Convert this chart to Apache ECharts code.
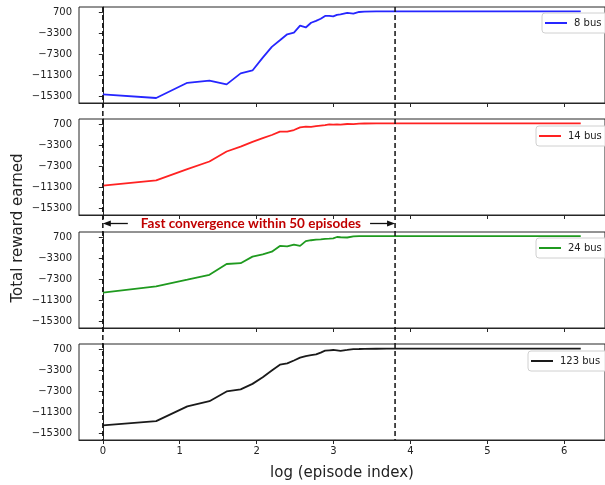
<!DOCTYPE html>
<html>
<head>
<meta charset="utf-8">
<script src="https://cdn.jsdelivr.net/npm/echarts@6/dist/echarts.min.js"></script>
<style>
  html, body { margin: 0; padding: 0; background: #fff; }
  #chart { width: 605px; height: 485px; }
</style>
</head>
<body>
<div id="chart"></div>
<script>
const episodes = [1, 2, 3, 4, 5, 6, 7, 8, 9, 10, 11, 12, 13, 14, 15, 16, 17, 18, 19, 20,
  21, 22, 24, 26, 28, 30, 35, 40, 45, 50, 60, 80, 100, 150, 200, 300, 400, 500]

const bus8 = [-15000, -15700, -12800, -12400, -13100, -11000, -10450, -8000, -5950, -4700,
  -3550, -3250, -1900, -2250, -1350, -1000, -600, -50, -50, -150,
  150, 250, 550, 400, 700, 750, 800, 820, 830, 830, 830, 830, 830, 830, 830, 830, 830, 830]
const bus14 = [-11050, -10050, -7900, -6450, -4550, -3600, -2700, -2000, -1400, -750,
  -750, -450, 50, 200, 150, 280, 400, 500, 620, 580,
  600, 560, 700, 680, 760, 790, 800, 820, 830, 830, 830, 830, 830, 830, 830, 830, 830, 830]
const bus24 = [-9900, -8700, -7450, -6500, -4450, -4300, -3050, -2600, -2100, -1000,
  -1100, -750, -1000, -100, 80, 200, 250, 350, 400, 450,
  700, 650, 600, 800, 850, 860, 870, 870, 870, 870, 870, 870, 870, 870, 870, 870, 870, 870]
const bus123 = [-13850, -13050, -10250, -9250, -7400, -7000, -5950, -4700, -3400, -2300,
  -2050, -1500, -950, -650, -480, -340, 0, 380, 450, 510,
  420, 330, 510, 680, 700, 720, 740, 750, 750, 750, 750, 750, 750, 750, 750, 750, 750, 750]

const seriesNames = ['8 bus', '14 bus', '24 bus', '123 bus']
const xTicks = [0, 1, 2, 3, 4, 5, 6]
const yTicks = [-15300, -11300, -7300, -3300, 700]
const convergeAt = 3.8   // log of ~45 episodes

const values = [bus8, bus14, bus24, bus123]
const colors = ['#2626ff', '#ff2222', '#1f9a1f', '#1a1a1a']
const tops = [7, 119, 232, 344]
const legendPos = [[542, 13], [536, 126], [536, 238], [528, 351]]
const axisColor = '#262626'
const font = 'DejaVu Sans'

const chart = echarts.init(document.getElementById('chart'))

chart.setOption({
    animation: false,
    textStyle: {fontFamily: font},
    grid: tops.map(t => ({
        left: 79, top: t, width: 534, height: 96,
        show: true, borderColor: axisColor, borderWidth: 1, backgroundColor: 'transparent'
    })),
    xAxis: tops.map((t, i) => ({
        type: 'value',
        gridIndex: i,
        min: -0.31,
        max: 6.53,
        name: i === 3 ? 'log (episode index)' : '',
        nameLocation: 'middle',
        nameGap: 26,
        nameTextStyle: {fontSize: 15, color: '#222', fontFamily: font},
        axisLine: {onZero: false, lineStyle: {color: axisColor, width: 1}},
        axisTick: {customValues: xTicks, length: 4, lineStyle: {color: axisColor}},
        axisLabel: {show: i === 3, customValues: xTicks, fontSize: 10, color: '#222', margin: 6},
        splitLine: {show: false}
    })),
    yAxis: tops.map((t, i) => ({
        type: 'value',
        gridIndex: i,
        min: -16650,
        max: 1650,
        axisLine: {show: true, lineStyle: {color: axisColor, width: 1}},
        axisTick: {show: true, customValues: yTicks, length: 4, lineStyle: {color: axisColor}},
        axisLabel: {
            customValues: yTicks, fontSize: 10, color: '#222', margin: 7,
            formatter: v => String(v).replace('-', '\u2212')
        },
        splitLine: {show: false}
    })),
    legend: seriesNames.map((name, i) => ({
        data: [name],
        left: legendPos[i][0],
        top: legendPos[i][1],
        padding: [5, 8, 5, 3],
        borderColor: '#d0d0d0',
        borderWidth: 1,
        borderRadius: 3,
        backgroundColor: 'rgba(255,255,255,0.85)',
        icon: 'rect',
        itemWidth: 22,
        itemHeight: 2,
        textStyle: {fontSize: 10, color: '#222', fontFamily: font, padding: [0, 0, 0, 2]}
    })),
    series: seriesNames.map((name, i) => ({
        name: name,
        type: 'line',
        xAxisIndex: i,
        yAxisIndex: i,
        symbol: 'none',
        color: colors[i],
        lineStyle: {width: 1.8, color: colors[i]},
        data: episodes.map((e, k) => [Math.log(e), values[i][k]])
    }))
})

// dashed convergence markers, the annotation and the shared y label
const x0 = chart.convertToPixel({xAxisIndex: 0}, 0)
const x1 = chart.convertToPixel({xAxisIndex: 0}, convergeAt)
const yTop = tops[0]
const yBottom = tops[3] + 96
const yMid = (tops[1] + 96 + tops[2]) / 2
const dash = {stroke: '#111', lineWidth: 1.5, lineDash: [5, 3]}
const arrowStyle = {stroke: '#111', lineWidth: 1.3}

chart.setOption({
    graphic: [
        {type: 'line', z: 50, shape: {x1: x0, y1: yTop, x2: x0, y2: yBottom}, style: dash},
        {type: 'line', z: 50, shape: {x1: x1, y1: yTop, x2: x1, y2: yBottom}, style: dash},
        {type: 'line', z: 50, shape: {x1: x0 + 25, y1: yMid, x2: x0 + 4, y2: yMid}, style: arrowStyle},
        {type: 'polygon', z: 50, shape: {points: [[x0, yMid], [x0 + 8, yMid - 3], [x0 + 8, yMid + 3]]}, style: {fill: '#111'}},
        {type: 'line', z: 50, shape: {x1: x1 - 25, y1: yMid, x2: x1 - 4, y2: yMid}, style: arrowStyle},
        {type: 'polygon', z: 50, shape: {points: [[x1, yMid], [x1 - 8, yMid - 3], [x1 - 8, yMid + 3]]}, style: {fill: '#111'}},
        {
            type: 'text', z: 50, x: (x0 + x1) / 2 + 2, y: yMid,
            style: {
                text: 'Fast convergence within 50 episodes',
                fill: '#c00000', font: 'bold 13.5px Lato', align: 'center', verticalAlign: 'middle'
            }
        },
        {
            type: 'text', z: 50, x: 18, y: 228, rotation: Math.PI / 2,
            style: {
                text: 'Total reward earned',
                fill: '#222', font: '15px "DejaVu Sans"', align: 'center', verticalAlign: 'middle'
            }
        }
    ]
})
</script>
</body>
</html>
